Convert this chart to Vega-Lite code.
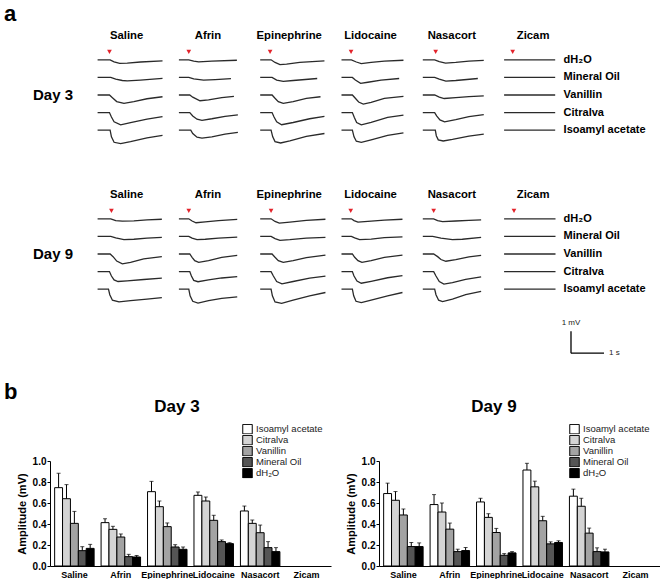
{
"$schema":"https://vega.github.io/schema/vega-lite/v6.json",
"padding":{"left":3,"top":3,"right":0,"bottom":0},
"config":{"font":"Liberation Sans","view":{"stroke":null},
 "axis":{"grid":false,"domainColor":"#000","tickColor":"#000","labelColor":"#000","titleColor":"#000"},
 "title":{"color":"#000"}},
"datasets":{
"d3":[
{"g":"Saline","o":"dH₂O","k":"s","t":0.36},{"g":"Afrin","o":"dH₂O","k":"s","t":0.3},{"g":"Epinephrine","o":"dH₂O","k":"s","t":0.3},{"g":"Lidocaine","o":"dH₂O","k":"s","t":0.29},{"g":"Nasacort","o":"dH₂O","k":"s","t":0.39},{"g":"Zicam","o":"dH₂O","k":"s","t":0.26},
{"g":"Saline","o":"dH₂O","t":0,"v":0},{"g":"Saline","o":"dH₂O","t":0.38,"v":0},{"g":"Saline","o":"dH₂O","t":0.5,"v":-0.09},{"g":"Saline","o":"dH₂O","t":0.67,"v":-0.16},{"g":"Saline","o":"dH₂O","t":0.9,"v":-0.15},{"g":"Saline","o":"dH₂O","t":1.3,"v":-0.1},{"g":"Saline","o":"dH₂O","t":1.97,"v":-0.05},
{"g":"Saline","o":"Mineral Oil","t":0,"v":0},{"g":"Saline","o":"Mineral Oil","t":0.4,"v":0},{"g":"Saline","o":"Mineral Oil","t":0.55,"v":-0.08},{"g":"Saline","o":"Mineral Oil","t":0.75,"v":-0.14},{"g":"Saline","o":"Mineral Oil","t":0.9,"v":-0.155},{"g":"Saline","o":"Mineral Oil","t":1.3,"v":-0.12},{"g":"Saline","o":"Mineral Oil","t":1.97,"v":-0.04},
{"g":"Saline","o":"Vanillin","t":0,"v":0},{"g":"Saline","o":"Vanillin","t":0.36,"v":0},{"g":"Saline","o":"Vanillin","t":0.45,"v":-0.12},{"g":"Saline","o":"Vanillin","t":0.58,"v":-0.3},{"g":"Saline","o":"Vanillin","t":0.8,"v":-0.38},{"g":"Saline","o":"Vanillin","t":1.1,"v":-0.3},{"g":"Saline","o":"Vanillin","t":1.5,"v":-0.17},{"g":"Saline","o":"Vanillin","t":1.97,"v":-0.08},
{"g":"Saline","o":"Citralva","t":0,"v":0},{"g":"Saline","o":"Citralva","t":0.36,"v":0},{"g":"Saline","o":"Citralva","t":0.42,"v":-0.2},{"g":"Saline","o":"Citralva","t":0.5,"v":-0.42},{"g":"Saline","o":"Citralva","t":0.7,"v":-0.56},{"g":"Saline","o":"Citralva","t":1.0,"v":-0.46},{"g":"Saline","o":"Citralva","t":1.5,"v":-0.3},{"g":"Saline","o":"Citralva","t":1.97,"v":-0.18},
{"g":"Saline","o":"Isoamyl acetate","t":0,"v":0},{"g":"Saline","o":"Isoamyl acetate","t":0.38,"v":0},{"g":"Saline","o":"Isoamyl acetate","t":0.42,"v":-0.3},{"g":"Saline","o":"Isoamyl acetate","t":0.5,"v":-0.55},{"g":"Saline","o":"Isoamyl acetate","t":0.7,"v":-0.61},{"g":"Saline","o":"Isoamyl acetate","t":1.0,"v":-0.52},{"g":"Saline","o":"Isoamyl acetate","t":1.5,"v":-0.35},{"g":"Saline","o":"Isoamyl acetate","t":1.97,"v":-0.24},
{"g":"Afrin","o":"dH₂O","t":0,"v":0},{"g":"Afrin","o":"dH₂O","t":0.3,"v":0},{"g":"Afrin","o":"dH₂O","t":0.45,"v":-0.06},{"g":"Afrin","o":"dH₂O","t":0.6,"v":-0.09},{"g":"Afrin","o":"dH₂O","t":1.0,"v":-0.06},{"g":"Afrin","o":"dH₂O","t":1.76,"v":-0.02},
{"g":"Afrin","o":"Mineral Oil","t":0,"v":0},{"g":"Afrin","o":"Mineral Oil","t":0.3,"v":0},{"g":"Afrin","o":"Mineral Oil","t":0.45,"v":-0.07},{"g":"Afrin","o":"Mineral Oil","t":0.75,"v":-0.12},{"g":"Afrin","o":"Mineral Oil","t":1.1,"v":-0.1},{"g":"Afrin","o":"Mineral Oil","t":1.58,"v":-0.06},
{"g":"Afrin","o":"Vanillin","t":0,"v":0},{"g":"Afrin","o":"Vanillin","t":0.33,"v":0},{"g":"Afrin","o":"Vanillin","t":0.42,"v":-0.1},{"g":"Afrin","o":"Vanillin","t":0.64,"v":-0.26},{"g":"Afrin","o":"Vanillin","t":0.9,"v":-0.22},{"g":"Afrin","o":"Vanillin","t":1.3,"v":-0.12},{"g":"Afrin","o":"Vanillin","t":1.67,"v":-0.06},
{"g":"Afrin","o":"Citralva","t":0,"v":0},{"g":"Afrin","o":"Citralva","t":0.33,"v":0},{"g":"Afrin","o":"Citralva","t":0.42,"v":-0.15},{"g":"Afrin","o":"Citralva","t":0.55,"v":-0.3},{"g":"Afrin","o":"Citralva","t":0.7,"v":-0.35},{"g":"Afrin","o":"Citralva","t":1.0,"v":-0.28},{"g":"Afrin","o":"Citralva","t":1.4,"v":-0.17},{"g":"Afrin","o":"Citralva","t":1.79,"v":-0.1},
{"g":"Afrin","o":"Isoamyl acetate","t":0,"v":0},{"g":"Afrin","o":"Isoamyl acetate","t":0.36,"v":0},{"g":"Afrin","o":"Isoamyl acetate","t":0.42,"v":-0.15},{"g":"Afrin","o":"Isoamyl acetate","t":0.55,"v":-0.32},{"g":"Afrin","o":"Isoamyl acetate","t":0.7,"v":-0.36},{"g":"Afrin","o":"Isoamyl acetate","t":1.0,"v":-0.3},{"g":"Afrin","o":"Isoamyl acetate","t":1.4,"v":-0.18},{"g":"Afrin","o":"Isoamyl acetate","t":1.79,"v":-0.1},
{"g":"Epinephrine","o":"dH₂O","t":0,"v":0},{"g":"Epinephrine","o":"dH₂O","t":0.33,"v":0},{"g":"Epinephrine","o":"dH₂O","t":0.45,"v":-0.12},{"g":"Epinephrine","o":"dH₂O","t":0.6,"v":-0.22},{"g":"Epinephrine","o":"dH₂O","t":0.8,"v":-0.2},{"g":"Epinephrine","o":"dH₂O","t":1.2,"v":-0.12},{"g":"Epinephrine","o":"dH₂O","t":1.95,"v":-0.05},
{"g":"Epinephrine","o":"Mineral Oil","t":0,"v":0},{"g":"Epinephrine","o":"Mineral Oil","t":0.36,"v":0},{"g":"Epinephrine","o":"Mineral Oil","t":0.5,"v":-0.12},{"g":"Epinephrine","o":"Mineral Oil","t":0.7,"v":-0.18},{"g":"Epinephrine","o":"Mineral Oil","t":1.0,"v":-0.14},{"g":"Epinephrine","o":"Mineral Oil","t":1.73,"v":-0.05},
{"g":"Epinephrine","o":"Vanillin","t":0,"v":0},{"g":"Epinephrine","o":"Vanillin","t":0.36,"v":0},{"g":"Epinephrine","o":"Vanillin","t":0.45,"v":-0.15},{"g":"Epinephrine","o":"Vanillin","t":0.55,"v":-0.3},{"g":"Epinephrine","o":"Vanillin","t":0.7,"v":-0.38},{"g":"Epinephrine","o":"Vanillin","t":1.0,"v":-0.3},{"g":"Epinephrine","o":"Vanillin","t":1.4,"v":-0.15},{"g":"Epinephrine","o":"Vanillin","t":1.83,"v":-0.08},
{"g":"Epinephrine","o":"Citralva","t":0,"v":0},{"g":"Epinephrine","o":"Citralva","t":0.36,"v":0},{"g":"Epinephrine","o":"Citralva","t":0.42,"v":-0.2},{"g":"Epinephrine","o":"Citralva","t":0.5,"v":-0.42},{"g":"Epinephrine","o":"Citralva","t":0.65,"v":-0.55},{"g":"Epinephrine","o":"Citralva","t":1.0,"v":-0.45},{"g":"Epinephrine","o":"Citralva","t":1.5,"v":-0.28},{"g":"Epinephrine","o":"Citralva","t":1.95,"v":-0.17},
{"g":"Epinephrine","o":"Isoamyl acetate","t":0,"v":0},{"g":"Epinephrine","o":"Isoamyl acetate","t":0.33,"v":0},{"g":"Epinephrine","o":"Isoamyl acetate","t":0.38,"v":-0.3},{"g":"Epinephrine","o":"Isoamyl acetate","t":0.45,"v":-0.52},{"g":"Epinephrine","o":"Isoamyl acetate","t":0.62,"v":-0.58},{"g":"Epinephrine","o":"Isoamyl acetate","t":0.9,"v":-0.48},{"g":"Epinephrine","o":"Isoamyl acetate","t":1.4,"v":-0.28},{"g":"Epinephrine","o":"Isoamyl acetate","t":1.95,"v":-0.15},
{"g":"Lidocaine","o":"dH₂O","t":0,"v":0},{"g":"Lidocaine","o":"dH₂O","t":0.3,"v":0},{"g":"Lidocaine","o":"dH₂O","t":0.45,"v":-0.1},{"g":"Lidocaine","o":"dH₂O","t":0.6,"v":-0.17},{"g":"Lidocaine","o":"dH₂O","t":0.9,"v":-0.12},{"g":"Lidocaine","o":"dH₂O","t":1.3,"v":-0.06},{"g":"Lidocaine","o":"dH₂O","t":1.88,"v":-0.02},
{"g":"Lidocaine","o":"Mineral Oil","t":0,"v":0},{"g":"Lidocaine","o":"Mineral Oil","t":0.33,"v":0},{"g":"Lidocaine","o":"Mineral Oil","t":0.42,"v":-0.12},{"g":"Lidocaine","o":"Mineral Oil","t":0.58,"v":-0.27},{"g":"Lidocaine","o":"Mineral Oil","t":0.8,"v":-0.22},{"g":"Lidocaine","o":"Mineral Oil","t":1.2,"v":-0.12},{"g":"Lidocaine","o":"Mineral Oil","t":1.75,"v":-0.05},
{"g":"Lidocaine","o":"Vanillin","t":0,"v":0},{"g":"Lidocaine","o":"Vanillin","t":0.33,"v":0},{"g":"Lidocaine","o":"Vanillin","t":0.42,"v":-0.15},{"g":"Lidocaine","o":"Vanillin","t":0.52,"v":-0.32},{"g":"Lidocaine","o":"Vanillin","t":0.66,"v":-0.41},{"g":"Lidocaine","o":"Vanillin","t":0.9,"v":-0.33},{"g":"Lidocaine","o":"Vanillin","t":1.3,"v":-0.15},{"g":"Lidocaine","o":"Vanillin","t":1.88,"v":-0.06},
{"g":"Lidocaine","o":"Citralva","t":0,"v":0},{"g":"Lidocaine","o":"Citralva","t":0.33,"v":0},{"g":"Lidocaine","o":"Citralva","t":0.39,"v":-0.22},{"g":"Lidocaine","o":"Citralva","t":0.46,"v":-0.45},{"g":"Lidocaine","o":"Citralva","t":0.6,"v":-0.56},{"g":"Lidocaine","o":"Citralva","t":0.9,"v":-0.44},{"g":"Lidocaine","o":"Citralva","t":1.4,"v":-0.22},{"g":"Lidocaine","o":"Citralva","t":1.88,"v":-0.11},
{"g":"Lidocaine","o":"Isoamyl acetate","t":0,"v":0},{"g":"Lidocaine","o":"Isoamyl acetate","t":0.33,"v":0},{"g":"Lidocaine","o":"Isoamyl acetate","t":0.38,"v":-0.3},{"g":"Lidocaine","o":"Isoamyl acetate","t":0.45,"v":-0.5},{"g":"Lidocaine","o":"Isoamyl acetate","t":0.6,"v":-0.55},{"g":"Lidocaine","o":"Isoamyl acetate","t":0.9,"v":-0.44},{"g":"Lidocaine","o":"Isoamyl acetate","t":1.4,"v":-0.24},{"g":"Lidocaine","o":"Isoamyl acetate","t":1.88,"v":-0.12},
{"g":"Nasacort","o":"dH₂O","t":0,"v":0},{"g":"Nasacort","o":"dH₂O","t":0.36,"v":0},{"g":"Nasacort","o":"dH₂O","t":0.5,"v":-0.08},{"g":"Nasacort","o":"dH₂O","t":0.69,"v":-0.15},{"g":"Nasacort","o":"dH₂O","t":1.0,"v":-0.12},{"g":"Nasacort","o":"dH₂O","t":1.4,"v":-0.06},{"g":"Nasacort","o":"dH₂O","t":1.85,"v":-0.03},
{"g":"Nasacort","o":"Mineral Oil","t":0,"v":0},{"g":"Nasacort","o":"Mineral Oil","t":0.36,"v":0},{"g":"Nasacort","o":"Mineral Oil","t":0.5,"v":-0.08},{"g":"Nasacort","o":"Mineral Oil","t":0.7,"v":-0.17},{"g":"Nasacort","o":"Mineral Oil","t":1.0,"v":-0.14},{"g":"Nasacort","o":"Mineral Oil","t":1.67,"v":-0.05},
{"g":"Nasacort","o":"Vanillin","t":0,"v":0},{"g":"Nasacort","o":"Vanillin","t":0.36,"v":0},{"g":"Nasacort","o":"Vanillin","t":0.5,"v":-0.1},{"g":"Nasacort","o":"Vanillin","t":0.65,"v":-0.16},{"g":"Nasacort","o":"Vanillin","t":1.0,"v":-0.12},{"g":"Nasacort","o":"Vanillin","t":1.4,"v":-0.07},{"g":"Nasacort","o":"Vanillin","t":1.85,"v":-0.04},
{"g":"Nasacort","o":"Citralva","t":0,"v":0},{"g":"Nasacort","o":"Citralva","t":0.36,"v":0},{"g":"Nasacort","o":"Citralva","t":0.42,"v":-0.15},{"g":"Nasacort","o":"Citralva","t":0.52,"v":-0.33},{"g":"Nasacort","o":"Citralva","t":0.66,"v":-0.42},{"g":"Nasacort","o":"Citralva","t":1.0,"v":-0.32},{"g":"Nasacort","o":"Citralva","t":1.4,"v":-0.18},{"g":"Nasacort","o":"Citralva","t":1.85,"v":-0.09},
{"g":"Nasacort","o":"Isoamyl acetate","t":0,"v":0},{"g":"Nasacort","o":"Isoamyl acetate","t":0.38,"v":0},{"g":"Nasacort","o":"Isoamyl acetate","t":0.41,"v":-0.25},{"g":"Nasacort","o":"Isoamyl acetate","t":0.47,"v":-0.44},{"g":"Nasacort","o":"Isoamyl acetate","t":0.62,"v":-0.49},{"g":"Nasacort","o":"Isoamyl acetate","t":0.9,"v":-0.42},{"g":"Nasacort","o":"Isoamyl acetate","t":1.4,"v":-0.27},{"g":"Nasacort","o":"Isoamyl acetate","t":1.85,"v":-0.18},
{"g":"Zicam","o":"dH₂O","t":0,"v":0},{"g":"Zicam","o":"dH₂O","t":1.55,"v":0},
{"g":"Zicam","o":"Mineral Oil","t":0,"v":0},{"g":"Zicam","o":"Mineral Oil","t":1.55,"v":0},
{"g":"Zicam","o":"Vanillin","t":0,"v":0},{"g":"Zicam","o":"Vanillin","t":1.55,"v":0},
{"g":"Zicam","o":"Citralva","t":0,"v":0},{"g":"Zicam","o":"Citralva","t":1.55,"v":0},
{"g":"Zicam","o":"Isoamyl acetate","t":0,"v":0},{"g":"Zicam","o":"Isoamyl acetate","t":1.55,"v":0}
],
"d9":[
{"g":"Saline","o":"dH₂O","k":"s","t":0.42},{"g":"Afrin","o":"dH₂O","k":"s","t":0.3},{"g":"Epinephrine","o":"dH₂O","k":"s","t":0.33},{"g":"Lidocaine","o":"dH₂O","k":"s","t":0.28},{"g":"Nasacort","o":"dH₂O","k":"s","t":0.33},{"g":"Zicam","o":"dH₂O","k":"s","t":0.3},
{"g":"Saline","o":"dH₂O","t":0,"v":0},{"g":"Saline","o":"dH₂O","t":0.4,"v":0},{"g":"Saline","o":"dH₂O","t":0.55,"v":-0.08},{"g":"Saline","o":"dH₂O","t":0.75,"v":-0.11},{"g":"Saline","o":"dH₂O","t":1.1,"v":-0.09},{"g":"Saline","o":"dH₂O","t":1.5,"v":-0.05},{"g":"Saline","o":"dH₂O","t":1.95,"v":-0.02},
{"g":"Saline","o":"Mineral Oil","t":0,"v":0},{"g":"Saline","o":"Mineral Oil","t":0.4,"v":0},{"g":"Saline","o":"Mineral Oil","t":0.55,"v":-0.07},{"g":"Saline","o":"Mineral Oil","t":0.8,"v":-0.15},{"g":"Saline","o":"Mineral Oil","t":1.1,"v":-0.13},{"g":"Saline","o":"Mineral Oil","t":1.5,"v":-0.08},{"g":"Saline","o":"Mineral Oil","t":1.95,"v":-0.04},
{"g":"Saline","o":"Vanillin","t":0,"v":0},{"g":"Saline","o":"Vanillin","t":0.38,"v":0},{"g":"Saline","o":"Vanillin","t":0.47,"v":-0.12},{"g":"Saline","o":"Vanillin","t":0.58,"v":-0.32},{"g":"Saline","o":"Vanillin","t":0.75,"v":-0.45},{"g":"Saline","o":"Vanillin","t":1.0,"v":-0.38},{"g":"Saline","o":"Vanillin","t":1.4,"v":-0.22},{"g":"Saline","o":"Vanillin","t":1.95,"v":-0.12},
{"g":"Saline","o":"Citralva","t":0,"v":0},{"g":"Saline","o":"Citralva","t":0.36,"v":0},{"g":"Saline","o":"Citralva","t":0.42,"v":-0.2},{"g":"Saline","o":"Citralva","t":0.5,"v":-0.38},{"g":"Saline","o":"Citralva","t":0.62,"v":-0.45},{"g":"Saline","o":"Citralva","t":0.9,"v":-0.42},{"g":"Saline","o":"Citralva","t":1.4,"v":-0.36},{"g":"Saline","o":"Citralva","t":1.95,"v":-0.3},
{"g":"Saline","o":"Isoamyl acetate","t":0,"v":0},{"g":"Saline","o":"Isoamyl acetate","t":0.33,"v":0},{"g":"Saline","o":"Isoamyl acetate","t":0.37,"v":-0.25},{"g":"Saline","o":"Isoamyl acetate","t":0.45,"v":-0.5},{"g":"Saline","o":"Isoamyl acetate","t":0.65,"v":-0.58},{"g":"Saline","o":"Isoamyl acetate","t":1.0,"v":-0.52},{"g":"Saline","o":"Isoamyl acetate","t":1.5,"v":-0.45},{"g":"Saline","o":"Isoamyl acetate","t":1.95,"v":-0.38},
{"g":"Afrin","o":"dH₂O","t":0,"v":0},{"g":"Afrin","o":"dH₂O","t":0.3,"v":0},{"g":"Afrin","o":"dH₂O","t":0.4,"v":-0.1},{"g":"Afrin","o":"dH₂O","t":0.52,"v":-0.18},{"g":"Afrin","o":"dH₂O","t":0.8,"v":-0.14},{"g":"Afrin","o":"dH₂O","t":1.2,"v":-0.08},{"g":"Afrin","o":"dH₂O","t":1.77,"v":-0.03},
{"g":"Afrin","o":"Mineral Oil","t":0,"v":0},{"g":"Afrin","o":"Mineral Oil","t":0.3,"v":0},{"g":"Afrin","o":"Mineral Oil","t":0.4,"v":-0.08},{"g":"Afrin","o":"Mineral Oil","t":0.55,"v":-0.15},{"g":"Afrin","o":"Mineral Oil","t":0.8,"v":-0.13},{"g":"Afrin","o":"Mineral Oil","t":1.2,"v":-0.08},{"g":"Afrin","o":"Mineral Oil","t":1.77,"v":-0.03},
{"g":"Afrin","o":"Vanillin","t":0,"v":0},{"g":"Afrin","o":"Vanillin","t":0.33,"v":0},{"g":"Afrin","o":"Vanillin","t":0.4,"v":-0.15},{"g":"Afrin","o":"Vanillin","t":0.48,"v":-0.3},{"g":"Afrin","o":"Vanillin","t":0.6,"v":-0.38},{"g":"Afrin","o":"Vanillin","t":0.9,"v":-0.3},{"g":"Afrin","o":"Vanillin","t":1.3,"v":-0.15},{"g":"Afrin","o":"Vanillin","t":1.77,"v":-0.06},
{"g":"Afrin","o":"Citralva","t":0,"v":0},{"g":"Afrin","o":"Citralva","t":0.33,"v":0},{"g":"Afrin","o":"Citralva","t":0.38,"v":-0.2},{"g":"Afrin","o":"Citralva","t":0.45,"v":-0.4},{"g":"Afrin","o":"Citralva","t":0.58,"v":-0.46},{"g":"Afrin","o":"Citralva","t":0.9,"v":-0.38},{"g":"Afrin","o":"Citralva","t":1.3,"v":-0.29},{"g":"Afrin","o":"Citralva","t":1.77,"v":-0.23},
{"g":"Afrin","o":"Isoamyl acetate","t":0,"v":0},{"g":"Afrin","o":"Isoamyl acetate","t":0.3,"v":0},{"g":"Afrin","o":"Isoamyl acetate","t":0.34,"v":-0.3},{"g":"Afrin","o":"Isoamyl acetate","t":0.42,"v":-0.55},{"g":"Afrin","o":"Isoamyl acetate","t":0.58,"v":-0.63},{"g":"Afrin","o":"Isoamyl acetate","t":0.9,"v":-0.52},{"g":"Afrin","o":"Isoamyl acetate","t":1.3,"v":-0.42},{"g":"Afrin","o":"Isoamyl acetate","t":1.77,"v":-0.35},
{"g":"Epinephrine","o":"dH₂O","t":0,"v":0},{"g":"Epinephrine","o":"dH₂O","t":0.33,"v":0},{"g":"Epinephrine","o":"dH₂O","t":0.45,"v":-0.12},{"g":"Epinephrine","o":"dH₂O","t":0.58,"v":-0.2},{"g":"Epinephrine","o":"dH₂O","t":0.9,"v":-0.15},{"g":"Epinephrine","o":"dH₂O","t":1.4,"v":-0.07},{"g":"Epinephrine","o":"dH₂O","t":1.98,"v":-0.02},
{"g":"Epinephrine","o":"Mineral Oil","t":0,"v":0},{"g":"Epinephrine","o":"Mineral Oil","t":0.33,"v":0},{"g":"Epinephrine","o":"Mineral Oil","t":0.45,"v":-0.1},{"g":"Epinephrine","o":"Mineral Oil","t":0.6,"v":-0.18},{"g":"Epinephrine","o":"Mineral Oil","t":0.9,"v":-0.15},{"g":"Epinephrine","o":"Mineral Oil","t":1.4,"v":-0.08},{"g":"Epinephrine","o":"Mineral Oil","t":1.98,"v":-0.04},
{"g":"Epinephrine","o":"Vanillin","t":0,"v":0},{"g":"Epinephrine","o":"Vanillin","t":0.36,"v":0},{"g":"Epinephrine","o":"Vanillin","t":0.45,"v":-0.15},{"g":"Epinephrine","o":"Vanillin","t":0.55,"v":-0.3},{"g":"Epinephrine","o":"Vanillin","t":0.7,"v":-0.38},{"g":"Epinephrine","o":"Vanillin","t":1.0,"v":-0.3},{"g":"Epinephrine","o":"Vanillin","t":1.4,"v":-0.16},{"g":"Epinephrine","o":"Vanillin","t":1.98,"v":-0.05},
{"g":"Epinephrine","o":"Citralva","t":0,"v":0},{"g":"Epinephrine","o":"Citralva","t":0.33,"v":0},{"g":"Epinephrine","o":"Citralva","t":0.4,"v":-0.2},{"g":"Epinephrine","o":"Citralva","t":0.5,"v":-0.45},{"g":"Epinephrine","o":"Citralva","t":0.66,"v":-0.56},{"g":"Epinephrine","o":"Citralva","t":1.0,"v":-0.45},{"g":"Epinephrine","o":"Citralva","t":1.5,"v":-0.3},{"g":"Epinephrine","o":"Citralva","t":1.98,"v":-0.21},
{"g":"Epinephrine","o":"Isoamyl acetate","t":0,"v":0},{"g":"Epinephrine","o":"Isoamyl acetate","t":0.33,"v":0},{"g":"Epinephrine","o":"Isoamyl acetate","t":0.37,"v":-0.3},{"g":"Epinephrine","o":"Isoamyl acetate","t":0.45,"v":-0.58},{"g":"Epinephrine","o":"Isoamyl acetate","t":0.65,"v":-0.64},{"g":"Epinephrine","o":"Isoamyl acetate","t":1.0,"v":-0.5},{"g":"Epinephrine","o":"Isoamyl acetate","t":1.5,"v":-0.3},{"g":"Epinephrine","o":"Isoamyl acetate","t":1.98,"v":-0.15},
{"g":"Lidocaine","o":"dH₂O","t":0,"v":0},{"g":"Lidocaine","o":"dH₂O","t":0.3,"v":0},{"g":"Lidocaine","o":"dH₂O","t":0.38,"v":-0.08},{"g":"Lidocaine","o":"dH₂O","t":0.5,"v":-0.15},{"g":"Lidocaine","o":"dH₂O","t":0.8,"v":-0.12},{"g":"Lidocaine","o":"dH₂O","t":1.3,"v":-0.06},{"g":"Lidocaine","o":"dH₂O","t":1.85,"v":-0.02},
{"g":"Lidocaine","o":"Mineral Oil","t":0,"v":0},{"g":"Lidocaine","o":"Mineral Oil","t":0.3,"v":0},{"g":"Lidocaine","o":"Mineral Oil","t":0.4,"v":-0.07},{"g":"Lidocaine","o":"Mineral Oil","t":0.55,"v":-0.15},{"g":"Lidocaine","o":"Mineral Oil","t":0.9,"v":-0.12},{"g":"Lidocaine","o":"Mineral Oil","t":1.3,"v":-0.06},{"g":"Lidocaine","o":"Mineral Oil","t":1.85,"v":-0.02},
{"g":"Lidocaine","o":"Vanillin","t":0,"v":0},{"g":"Lidocaine","o":"Vanillin","t":0.33,"v":0},{"g":"Lidocaine","o":"Vanillin","t":0.4,"v":-0.15},{"g":"Lidocaine","o":"Vanillin","t":0.5,"v":-0.3},{"g":"Lidocaine","o":"Vanillin","t":0.62,"v":-0.38},{"g":"Lidocaine","o":"Vanillin","t":0.9,"v":-0.3},{"g":"Lidocaine","o":"Vanillin","t":1.3,"v":-0.15},{"g":"Lidocaine","o":"Vanillin","t":1.85,"v":-0.05},
{"g":"Lidocaine","o":"Citralva","t":0,"v":0},{"g":"Lidocaine","o":"Citralva","t":0.33,"v":0},{"g":"Lidocaine","o":"Citralva","t":0.38,"v":-0.2},{"g":"Lidocaine","o":"Citralva","t":0.47,"v":-0.43},{"g":"Lidocaine","o":"Citralva","t":0.6,"v":-0.53},{"g":"Lidocaine","o":"Citralva","t":0.9,"v":-0.44},{"g":"Lidocaine","o":"Citralva","t":1.4,"v":-0.28},{"g":"Lidocaine","o":"Citralva","t":1.85,"v":-0.18},
{"g":"Lidocaine","o":"Isoamyl acetate","t":0,"v":0},{"g":"Lidocaine","o":"Isoamyl acetate","t":0.33,"v":0},{"g":"Lidocaine","o":"Isoamyl acetate","t":0.37,"v":-0.3},{"g":"Lidocaine","o":"Isoamyl acetate","t":0.44,"v":-0.55},{"g":"Lidocaine","o":"Isoamyl acetate","t":0.6,"v":-0.61},{"g":"Lidocaine","o":"Isoamyl acetate","t":0.9,"v":-0.5},{"g":"Lidocaine","o":"Isoamyl acetate","t":1.4,"v":-0.3},{"g":"Lidocaine","o":"Isoamyl acetate","t":1.85,"v":-0.15},
{"g":"Nasacort","o":"dH₂O","t":0,"v":0},{"g":"Nasacort","o":"dH₂O","t":0.33,"v":0},{"g":"Nasacort","o":"dH₂O","t":0.45,"v":-0.08},{"g":"Nasacort","o":"dH₂O","t":0.6,"v":-0.13},{"g":"Nasacort","o":"dH₂O","t":1.0,"v":-0.1},{"g":"Nasacort","o":"dH₂O","t":1.4,"v":-0.07},{"g":"Nasacort","o":"dH₂O","t":1.77,"v":-0.05},
{"g":"Nasacort","o":"Mineral Oil","t":0,"v":0},{"g":"Nasacort","o":"Mineral Oil","t":0.3,"v":0},{"g":"Nasacort","o":"Mineral Oil","t":0.55,"v":-0.08},{"g":"Nasacort","o":"Mineral Oil","t":0.9,"v":-0.15},{"g":"Nasacort","o":"Mineral Oil","t":1.2,"v":-0.13},{"g":"Nasacort","o":"Mineral Oil","t":1.77,"v":-0.04},
{"g":"Nasacort","o":"Vanillin","t":0,"v":0},{"g":"Nasacort","o":"Vanillin","t":0.33,"v":0},{"g":"Nasacort","o":"Vanillin","t":0.45,"v":-0.12},{"g":"Nasacort","o":"Vanillin","t":0.55,"v":-0.25},{"g":"Nasacort","o":"Vanillin","t":0.7,"v":-0.33},{"g":"Nasacort","o":"Vanillin","t":1.0,"v":-0.26},{"g":"Nasacort","o":"Vanillin","t":1.4,"v":-0.13},{"g":"Nasacort","o":"Vanillin","t":1.77,"v":-0.06},
{"g":"Nasacort","o":"Citralva","t":0,"v":0},{"g":"Nasacort","o":"Citralva","t":0.33,"v":0},{"g":"Nasacort","o":"Citralva","t":0.4,"v":-0.2},{"g":"Nasacort","o":"Citralva","t":0.5,"v":-0.45},{"g":"Nasacort","o":"Citralva","t":0.64,"v":-0.57},{"g":"Nasacort","o":"Citralva","t":0.9,"v":-0.5},{"g":"Nasacort","o":"Citralva","t":1.3,"v":-0.35},{"g":"Nasacort","o":"Citralva","t":1.77,"v":-0.24},
{"g":"Nasacort","o":"Isoamyl acetate","t":0,"v":0},{"g":"Nasacort","o":"Isoamyl acetate","t":0.36,"v":0},{"g":"Nasacort","o":"Isoamyl acetate","t":0.4,"v":-0.25},{"g":"Nasacort","o":"Isoamyl acetate","t":0.48,"v":-0.5},{"g":"Nasacort","o":"Isoamyl acetate","t":0.6,"v":-0.56},{"g":"Nasacort","o":"Isoamyl acetate","t":0.9,"v":-0.45},{"g":"Nasacort","o":"Isoamyl acetate","t":1.3,"v":-0.25},{"g":"Nasacort","o":"Isoamyl acetate","t":1.77,"v":-0.1},
{"g":"Zicam","o":"dH₂O","t":0,"v":0},{"g":"Zicam","o":"dH₂O","t":1.56,"v":0},
{"g":"Zicam","o":"Mineral Oil","t":0,"v":0},{"g":"Zicam","o":"Mineral Oil","t":1.56,"v":0},
{"g":"Zicam","o":"Vanillin","t":0,"v":0},{"g":"Zicam","o":"Vanillin","t":1.56,"v":0},
{"g":"Zicam","o":"Citralva","t":0,"v":0},{"g":"Zicam","o":"Citralva","t":1.56,"v":0},
{"g":"Zicam","o":"Isoamyl acetate","t":0,"v":0},{"g":"Zicam","o":"Isoamyl acetate","t":1.56,"v":0}
],
"sb":[{"x":0,"x2":0,"y":0,"y2":1,"lab":"1 mV"},{"x":0,"x2":1,"y":0,"y2":0,"lab":"1 s"}],
"b3":[
{"g":"Saline","o":"Isoamyl acetate","m":0.746,"hi":0.883},{"g":"Saline","o":"Citralva","m":0.641,"hi":0.775},{"g":"Saline","o":"Vanillin","m":0.406,"hi":0.52},{"g":"Saline","o":"Mineral Oil","m":0.146,"hi":0.184},{"g":"Saline","o":"dH₂O","m":0.168,"hi":0.206},
{"g":"Afrin","o":"Isoamyl acetate","m":0.413,"hi":0.45},{"g":"Afrin","o":"Citralva","m":0.349,"hi":0.378},{"g":"Afrin","o":"Vanillin","m":0.276,"hi":0.305},{"g":"Afrin","o":"Mineral Oil","m":0.089,"hi":0.111},{"g":"Afrin","o":"dH₂O","m":0.086,"hi":0.1},
{"g":"Epinephrine","o":"Isoamyl acetate","m":0.708,"hi":0.806},{"g":"Epinephrine","o":"Citralva","m":0.565,"hi":0.619},{"g":"Epinephrine","o":"Vanillin","m":0.375,"hi":0.41},{"g":"Epinephrine","o":"Mineral Oil","m":0.181,"hi":0.203},{"g":"Epinephrine","o":"dH₂O","m":0.159,"hi":0.181},
{"g":"Lidocaine","o":"Isoamyl acetate","m":0.673,"hi":0.705},{"g":"Lidocaine","o":"Citralva","m":0.619,"hi":0.657},{"g":"Lidocaine","o":"Vanillin","m":0.435,"hi":0.483},{"g":"Lidocaine","o":"Mineral Oil","m":0.232,"hi":0.248},{"g":"Lidocaine","o":"dH₂O","m":0.213,"hi":0.222},
{"g":"Nasacort","o":"Isoamyl acetate","m":0.524,"hi":0.571},{"g":"Nasacort","o":"Citralva","m":0.406,"hi":0.438},{"g":"Nasacort","o":"Vanillin","m":0.317,"hi":0.39},{"g":"Nasacort","o":"Mineral Oil","m":0.175,"hi":0.232},{"g":"Nasacort","o":"dH₂O","m":0.137,"hi":0.175}
],
"b9":[
{"g":"Saline","o":"Isoamyl acetate","m":0.69,"hi":0.789},{"g":"Saline","o":"Citralva","m":0.626,"hi":0.709},{"g":"Saline","o":"Vanillin","m":0.486,"hi":0.543},{"g":"Saline","o":"Mineral Oil","m":0.185,"hi":0.224},{"g":"Saline","o":"dH₂O","m":0.185,"hi":0.22},
{"g":"Afrin","o":"Isoamyl acetate","m":0.585,"hi":0.68},{"g":"Afrin","o":"Citralva","m":0.514,"hi":0.6},{"g":"Afrin","o":"Vanillin","m":0.351,"hi":0.409},{"g":"Afrin","o":"Mineral Oil","m":0.137,"hi":0.16},{"g":"Afrin","o":"dH₂O","m":0.147,"hi":0.176},
{"g":"Epinephrine","o":"Isoamyl acetate","m":0.61,"hi":0.645},{"g":"Epinephrine","o":"Citralva","m":0.463,"hi":0.498},{"g":"Epinephrine","o":"Vanillin","m":0.319,"hi":0.358},{"g":"Epinephrine","o":"Mineral Oil","m":0.102,"hi":0.118},{"g":"Epinephrine","o":"dH₂O","m":0.125,"hi":0.137},
{"g":"Lidocaine","o":"Isoamyl acetate","m":0.914,"hi":0.978},{"g":"Lidocaine","o":"Citralva","m":0.754,"hi":0.808},{"g":"Lidocaine","o":"Vanillin","m":0.431,"hi":0.473},{"g":"Lidocaine","o":"Mineral Oil","m":0.211,"hi":0.23},{"g":"Lidocaine","o":"dH₂O","m":0.224,"hi":0.24},
{"g":"Nasacort","o":"Isoamyl acetate","m":0.665,"hi":0.732},{"g":"Nasacort","o":"Citralva","m":0.569,"hi":0.645},{"g":"Nasacort","o":"Vanillin","m":0.313,"hi":0.361},{"g":"Nasacort","o":"Mineral Oil","m":0.137,"hi":0.173},{"g":"Nasacort","o":"dH₂O","m":0.134,"hi":0.16}
]
},
"spacing":23,
"vconcat":[
{
 "title":{"text":"a","anchor":"start","frame":"bounds","fontSize":22,"fontWeight":"bold","dx":-29,"offset":3},
 "spacing":41,
 "vconcat":[
  {
   "data":{"name":"d3"},
   "width":512.1,"height":88,
   "title":{"text":"Day 3","orient":"left","angle":0,"align":"center","baseline":"middle","anchor":"middle","frame":"group","offset":-3,"dx":40,"fontSize":15,"fontWeight":"bold"},
   "encoding":{
    "x":{"field":"g","type":"nominal","scale":{"domain":["Saline","Afrin","Epinephrine","Lidocaine","Nasacort","Zicam"],"paddingInner":0.2866,"paddingOuter":0.2927,"align":1},
     "axis":{"orient":"top","title":null,"domain":false,"ticks":false,"labelAngle":0,"labelFontSize":11.3,"labelFontWeight":"bold","labelPadding":11}},
    "xOffset":{"field":"t","type":"quantitative","scale":{"domain":[0,1.76],"nice":false,"zero":false}},
    "y":{"field":"o","type":"nominal","scale":{"domain":["dH₂O","Mineral Oil","Vanillin","Citralva","Isoamyl acetate"],"paddingInner":0,"paddingOuter":0},
     "axis":{"orient":"right","title":null,"domain":false,"ticks":false,"labelFontSize":11,"labelFontWeight":"bold","labelPadding":1}}
   },
   "layer":[
    {"transform":[{"filter":"!datum.k"}],
     "mark":{"type":"line","color":"#2a2a2a","strokeWidth":1.3},
     "encoding":{"yOffset":{"field":"v","type":"quantitative","scale":{"domain":[-0.4,0.4],"nice":false,"zero":false,"reverse":true}},
      "detail":[{"field":"g","type":"nominal"},{"field":"o","type":"nominal"}],
      "order":{"field":"t","type":"quantitative"}}},
    {"transform":[{"filter":"datum.k == 's'"}],
     "mark":{"type":"point","shape":"triangle-down","filled":true,"color":"#e3232b","size":22,"opacity":1},
     "encoding":{"yOffset":{"datum":0.36}}}
   ]
  },
  {
   "spacing":12,
   "vconcat":[
    {
     "data":{"name":"d9"},
     "width":512.1,"height":88,
     "title":{"text":"Day 9","orient":"left","angle":0,"align":"center","baseline":"middle","anchor":"middle","frame":"group","offset":-3,"dx":40,"fontSize":15,"fontWeight":"bold"},
     "encoding":{
      "x":{"field":"g","type":"nominal","scale":{"domain":["Saline","Afrin","Epinephrine","Lidocaine","Nasacort","Zicam"],"paddingInner":0.2866,"paddingOuter":0.2927,"align":1},
       "axis":{"orient":"top","title":null,"domain":false,"ticks":false,"labelAngle":0,"labelFontSize":11.3,"labelFontWeight":"bold","labelPadding":11}},
      "xOffset":{"field":"t","type":"quantitative","scale":{"domain":[0,1.76],"nice":false,"zero":false}},
      "y":{"field":"o","type":"nominal","scale":{"domain":["dH₂O","Mineral Oil","Vanillin","Citralva","Isoamyl acetate"],"paddingInner":0,"paddingOuter":0},
       "axis":{"orient":"right","title":null,"domain":false,"ticks":false,"labelFontSize":11,"labelFontWeight":"bold","labelPadding":1}}
     },
     "layer":[
      {"transform":[{"filter":"!datum.k"}],
       "mark":{"type":"line","color":"#2a2a2a","strokeWidth":1.3},
       "encoding":{"yOffset":{"field":"v","type":"quantitative","scale":{"domain":[-0.4,0.4],"nice":false,"zero":false,"reverse":true}},
        "detail":[{"field":"g","type":"nominal"},{"field":"o","type":"nominal"}],
        "order":{"field":"t","type":"quantitative"}}},
      {"transform":[{"filter":"datum.k == 's'"}],
       "mark":{"type":"point","shape":"triangle-down","filled":true,"color":"#e3232b","size":22,"opacity":1},
       "encoding":{"yOffset":{"datum":0.36}}}
     ]
    },
    {
     "data":{"name":"sb"},
     "width":560,"height":39.6,
     "layer":[
      {"mark":{"type":"rule","color":"#000","strokeWidth":1.3},
       "encoding":{"x":{"field":"x","type":"quantitative","scale":{"domain":[-15.788,1.182],"nice":false,"zero":false},"axis":null},"x2":{"field":"x2"},
        "y":{"field":"y","type":"quantitative","scale":{"domain":[-0.2,1.6],"nice":false,"zero":false},"axis":null},"y2":{"field":"y2"}}},
      {"transform":[{"filter":"datum.lab == '1 mV'"}],
       "mark":{"type":"text","fontSize":8,"dy":-8,"align":"center","baseline":"middle","color":"#222"},
       "encoding":{"x":{"field":"x2","type":"quantitative"},"y":{"field":"y2","type":"quantitative"},"text":{"field":"lab"}}},
      {"transform":[{"filter":"datum.lab == '1 s'"}],
       "mark":{"type":"text","fontSize":8,"dx":5,"align":"left","baseline":"middle","color":"#222"},
       "encoding":{"x":{"field":"x2","type":"quantitative"},"y":{"field":"y2","type":"quantitative"},"text":{"field":"lab"}}}
     ]
    }
   ]
  }
 ]
},
{
 "title":{"text":"b","anchor":"start","frame":"bounds","fontSize":22,"fontWeight":"bold","dx":-12,"offset":-6},
 "spacing":14,
 "resolve":{"legend":{"color":"independent"}},
 "hconcat":[
  {
   "data":{"name":"b3"},
   "title":{"text":"Day 3","fontSize":17,"fontWeight":"bold","anchor":"middle","frame":"group","dx":-13.5,"offset":8},
   "width":281,"height":105,
   "encoding":{
    "x":{"field":"g","type":"nominal","scale":{"domain":["Saline","Afrin","Epinephrine","Lidocaine","Nasacort","Zicam"],"paddingInner":0.15,"paddingOuter":0.1},
     "axis":{"title":null,"labelAngle":0,"ticks":false,"labelFontSize":9,"labelFontWeight":"bold","labelPadding":4}},
    "xOffset":{"field":"o","type":"nominal","scale":{"domain":["Isoamyl acetate","Citralva","Vanillin","Mineral Oil","dH₂O"],"paddingInner":0,"paddingOuter":0}},
    "y":{"field":"m","type":"quantitative","scale":{"domain":[0,1],"nice":false},
     "axis":{"title":"Amplitude (mV)","values":[0,0.2,0.4,0.6,0.8,1],"format":".1f","tickSize":3,"labelPadding":1,"labelFontSize":10,"labelFontWeight":"bold","titleFontSize":11,"titleFontWeight":"bold","titlePadding":5}}
   },
   "layer":[
    {"mark":{"type":"bar","stroke":"#000","strokeWidth":1},
     "encoding":{"color":{"field":"o","type":"nominal","scale":{"domain":["Isoamyl acetate","Citralva","Vanillin","Mineral Oil","dH₂O"],"range":["#ffffff","#d4d4d4","#a3a3a3","#555555","#000000"]},
      "legend":{"title":null,"orient":"none","legendX":192,"legendY":-37,"padding":0,"symbolType":"square","symbolSize":90,"symbolStrokeColor":"#000","symbolStrokeWidth":1,"labelFontSize":9.5,"labelColor":"#222","rowPadding":0,"clipHeight":10.3,"labelOffset":3}}}},
    {"mark":{"type":"rule","color":"#000","strokeWidth":1},"encoding":{"y2":{"field":"hi"}}},
    {"mark":{"type":"tick","color":"#000","size":4,"thickness":1,"orient":"horizontal"},"encoding":{"y":{"field":"hi","type":"quantitative"}}}
   ]
  },
  {
   "data":{"name":"b9"},
   "title":{"text":"Day 9","fontSize":17,"fontWeight":"bold","anchor":"middle","frame":"group","dx":-25.5,"offset":8},
   "width":281,"height":105,
   "encoding":{
    "x":{"field":"g","type":"nominal","scale":{"domain":["Saline","Afrin","Epinephrine","Lidocaine","Nasacort","Zicam"],"paddingInner":0.15,"paddingOuter":0.1},
     "axis":{"title":null,"labelAngle":0,"ticks":false,"labelFontSize":9,"labelFontWeight":"bold","labelPadding":4}},
    "xOffset":{"field":"o","type":"nominal","scale":{"domain":["Isoamyl acetate","Citralva","Vanillin","Mineral Oil","dH₂O"],"paddingInner":0,"paddingOuter":0}},
    "y":{"field":"m","type":"quantitative","scale":{"domain":[0,1],"nice":false},
     "axis":{"title":"Amplitude (mV)","values":[0,0.2,0.4,0.6,0.8,1],"format":".1f","tickSize":3,"labelPadding":1,"labelFontSize":10,"labelFontWeight":"bold","titleFontSize":11,"titleFontWeight":"bold","titlePadding":5}}
   },
   "layer":[
    {"mark":{"type":"bar","stroke":"#000","strokeWidth":1},
     "encoding":{"color":{"field":"o","type":"nominal","scale":{"domain":["Isoamyl acetate","Citralva","Vanillin","Mineral Oil","dH₂O"],"range":["#ffffff","#d4d4d4","#a3a3a3","#555555","#000000"]},
      "legend":{"title":null,"orient":"none","legendX":190,"legendY":-37,"padding":0,"symbolType":"square","symbolSize":90,"symbolStrokeColor":"#000","symbolStrokeWidth":1,"labelFontSize":9.5,"labelColor":"#222","rowPadding":0,"clipHeight":10.3,"labelOffset":3}}}},
    {"mark":{"type":"rule","color":"#000","strokeWidth":1},"encoding":{"y2":{"field":"hi"}}},
    {"mark":{"type":"tick","color":"#000","size":4,"thickness":1,"orient":"horizontal"},"encoding":{"y":{"field":"hi","type":"quantitative"}}}
   ]
  }
 ]
}
]
}
